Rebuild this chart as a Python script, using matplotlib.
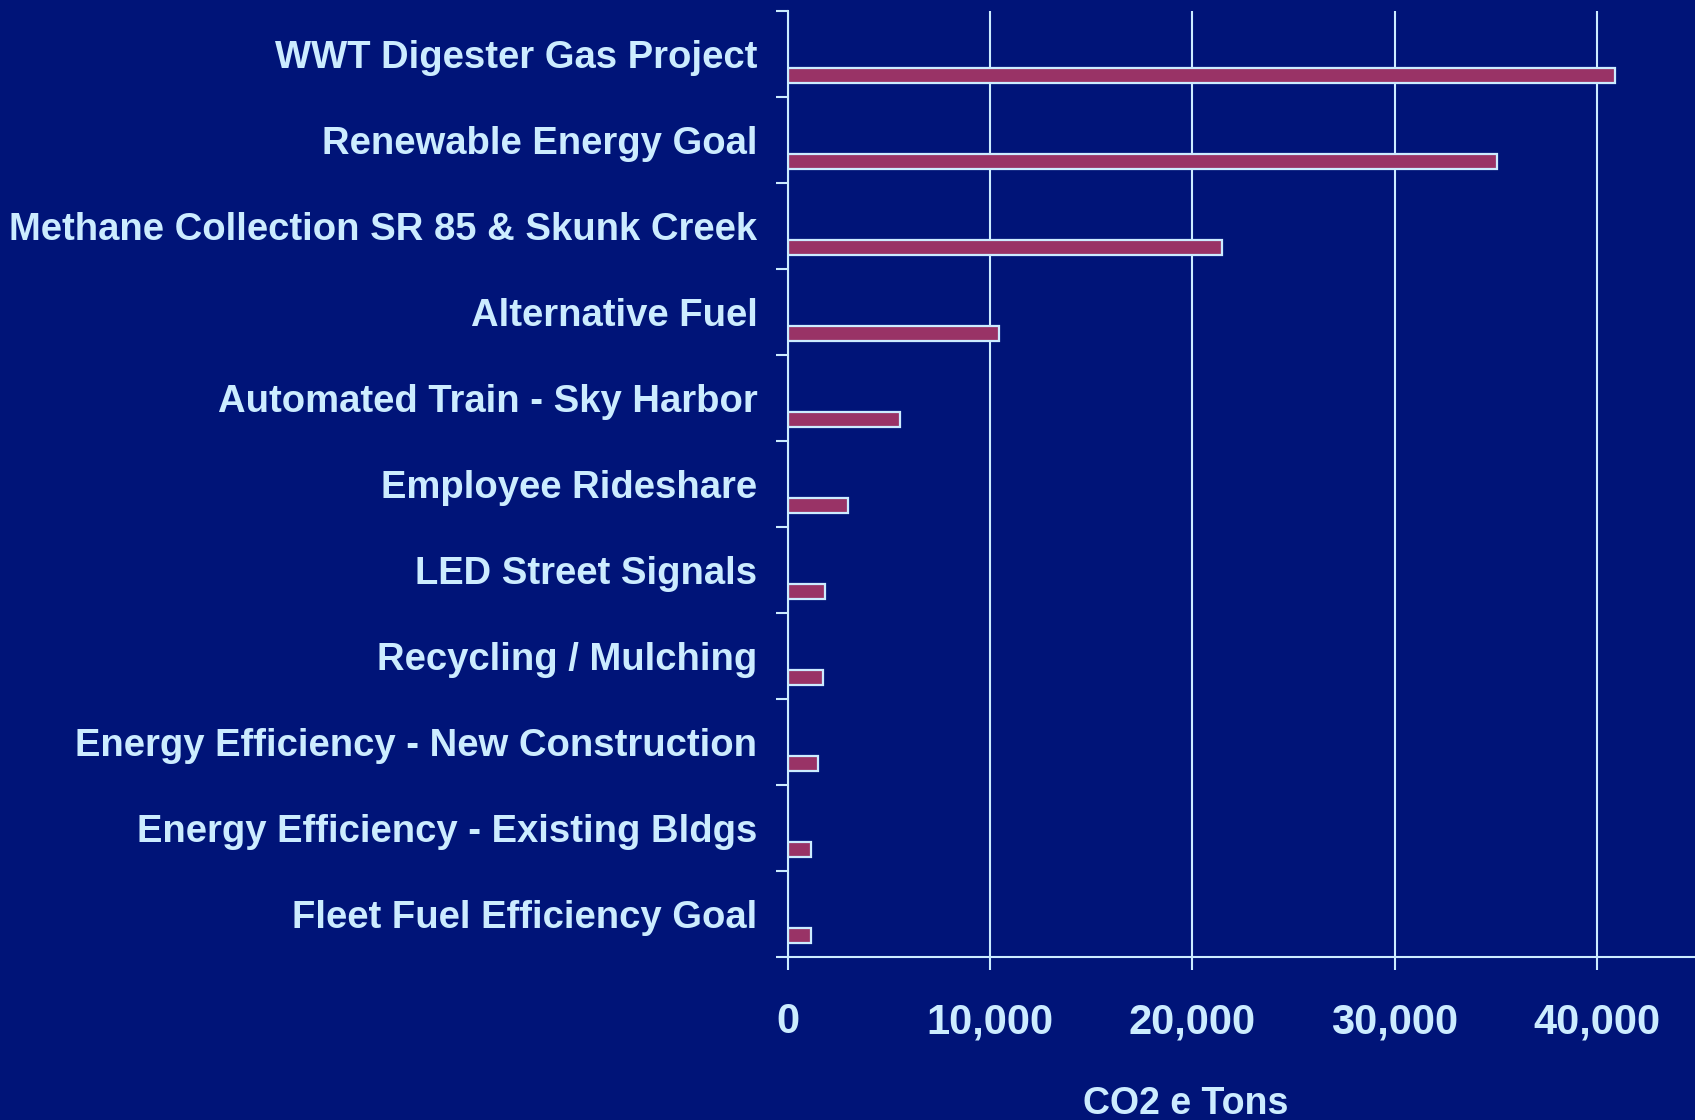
import matplotlib
matplotlib.use("Agg")
import matplotlib.pyplot as plt
from matplotlib.ticker import FuncFormatter, FixedLocator

categories = [
    "WWT Digester Gas Project",
    "Renewable Energy Goal",
    "Methane Collection SR 85 & Skunk Creek",
    "Alternative Fuel",
    "Automated Train - Sky Harbor",
    "Employee Rideshare",
    "LED Street Signals",
    "Recycling / Mulching",
    "Energy Efficiency - New Construction",
    "Energy Efficiency - Existing Bldgs",
    "Fleet Fuel Efficiency Goal",
]
values = [40900, 35050, 21450, 10450, 5530, 2980, 1820, 1720, 1490, 1140, 1140]
xticks = [0, 10000, 20000, 30000, 40000]
xlabel = "CO2 e Tons"

BG = "#001478"
FG = "#CCECFF"
BAR = "#993366"

plt.rcParams['font.family'] = ['Liberation Sans', 'DejaVu Sans']

fig = plt.figure(figsize=(16.95, 11.2), dpi=100, facecolor=BG)
ax = fig.add_axes([788/1695, 1 - 957/1120, (1698 - 788)/1695, (957 - 11)/1120])
ax.set_facecolor(BG)

pos = list(range(len(categories)))
ax.barh([p + 0.255 for p in pos], values, height=0.175, color=BAR,
        edgecolor=FG, linewidth=1.6, zorder=3)

ax.set_xlim(0, 45000)
ax.set_ylim(len(categories) - 0.5, -0.5)

ax.set_xticks(xticks)
ax.xaxis.set_major_formatter(FuncFormatter(lambda v, p: f"{int(v):,}"))
ax.grid(axis='x', color=FG, linewidth=1.5, zorder=1)
ax.grid(axis='y', visible=False)

ax.set_yticks(pos)
ax.set_yticklabels(categories)
ax.yaxis.set_minor_locator(FixedLocator([p - 0.5 for p in pos] + [len(categories) - 0.5]))
ax.tick_params(axis='y', which='major', length=0, pad=22, labelsize=27.5,
               labelcolor=FG)
ax.tick_params(axis='y', which='minor', length=8.6, width=1.5, color=FG)
for lbl in ax.get_yticklabels():
    lbl.set_fontweight('bold')

ax.tick_params(axis='x', which='major', length=9.4, width=1.5, color=FG,
               pad=23, labelsize=30, labelcolor=FG)
for lbl in ax.get_xticklabels():
    lbl.set_fontweight('bold')

for s in ['top', 'right']:
    ax.spines[s].set_visible(False)
for s in ['left', 'bottom']:
    ax.spines[s].set_color(FG)
    ax.spines[s].set_linewidth(1.5)
    ax.spines[s].set_zorder(4)

ax.set_xlabel(xlabel, fontsize=27, fontweight='bold', color=FG, va='top')
ax.xaxis.set_label_coords((1186 - 788) / 910, (957 - 1086) / 946)

fig.savefig("out.png", dpi=100, facecolor=BG)
